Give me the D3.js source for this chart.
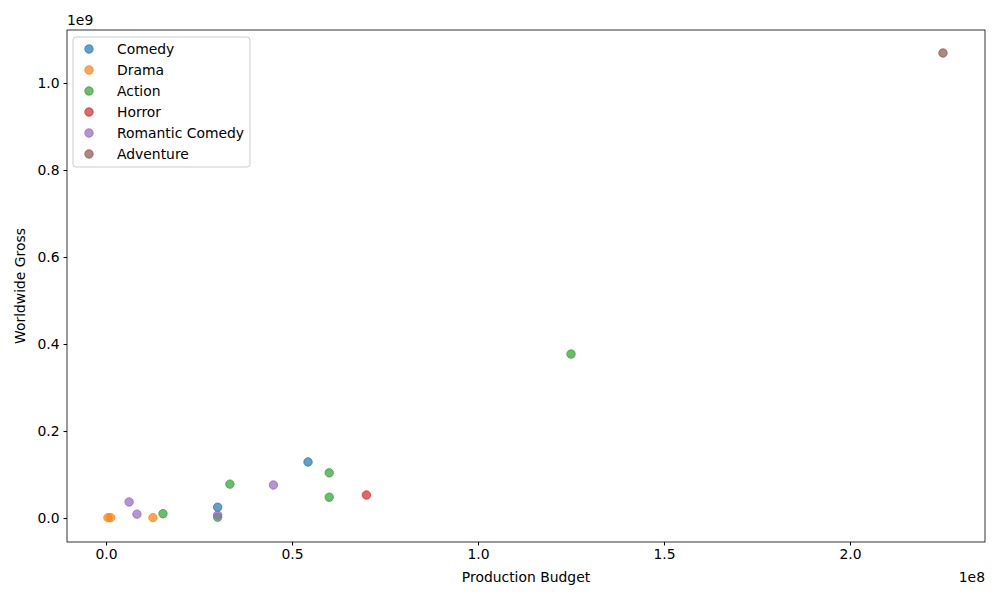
<!DOCTYPE html><html><head><meta charset="utf-8"><script src="https://d3js.org/d3.v7.min.js"></script>
<style>body{margin:0;background:#fff}text{font-family:"DejaVu Sans",sans-serif}</style></head><body><svg id="c" width="1000" height="600"></svg>
<script>
const genres=["Comedy","Drama","Action","Horror","Romantic Comedy","Adventure"];
const colors=["#1f77b4","#ff7f0e","#2ca02c","#d62728","#9467bd","#8c564b"];
const budget=[54.3e6,30e6, 0.5e6,1.2e6,12.6e6, 15.3e6,30e6,33.3e6,60e6,60e6,125e6, 70e6, 6.2e6,8.3e6,30e6,45e6, 225e6];
const gross=[129e6,25e6, 1e6,1e6,1e6, 10e6,2e6,78e6,104e6,48e6,377e6, 53e6, 37e6,9e6,7e6,76e6, 1069e6];
const genre=["Comedy","Comedy","Drama","Drama","Drama","Action","Action","Action","Action","Action","Action","Horror","Romantic Comedy","Romantic Comedy","Romantic Comedy","Romantic Comedy","Adventure"];
const xTicks=[0,0.5e8,1e8,1.5e8,2e8], yTicks=[0,0.2e9,0.4e9,0.6e9,0.8e9,1e9];
const FS="13.9px";
const svg=d3.select("#c");
const L=67,R=985,T=30,B=542;
const x=d3.scaleLinear().domain([-10.5e6,236.3e6]).range([L,R]);
const y=d3.scaleLinear().domain([-55e6,1121.8e6]).range([B,T]);
const col=d3.scaleOrdinal().domain(genres).range(colors);
svg.append("g").attr("transform",`translate(0,${B})`).call(d3.axisBottom(x).tickValues(xTicks).tickFormat(d=>(d/1e8).toFixed(1)).tickSizeOuter(0).tickSize(3.5).tickPadding(4)).attr("font-size",FS);
svg.append("g").attr("transform",`translate(${L},0)`).call(d3.axisLeft(y).tickValues(yTicks).tickFormat(d=>(d/1e9).toFixed(1)).tickSizeOuter(0).tickSize(3.5).tickPadding(4)).attr("font-size",FS);
svg.selectAll(".domain").remove();
svg.selectAll(".tick text").attr("fill","#000").style("font-family","DejaVu Sans");
svg.append("rect").attr("x",L).attr("y",T).attr("width",R-L).attr("height",B-T).attr("fill","none").attr("stroke","#000").attr("stroke-width",0.8);
svg.append("g").selectAll("circle").data(budget).join("circle").attr("cx",d=>x(d)).attr("cy",(d,i)=>y(gross[i])).attr("r",4.2).attr("fill",(d,i)=>col(genre[i])).attr("fill-opacity",0.7).attr("stroke",(d,i)=>col(genre[i])).attr("stroke-opacity",0.75).attr("stroke-width",1);
svg.append("text").attr("x",(L+R)/2).attr("y",582).attr("text-anchor","middle").attr("font-size",FS).text("Production Budget");
svg.append("text").attr("transform",`translate(25,${(T+B)/2}) rotate(-90)`).attr("text-anchor","middle").attr("font-size",FS).text("Worldwide Gross");
svg.append("text").attr("x",67).attr("y",25).attr("font-size",FS).text("1e9");
svg.append("text").attr("x",985).attr("y",582).attr("text-anchor","end").attr("font-size",FS).text("1e8");
const lg=svg.append("g").attr("transform","translate(73,37)");
lg.append("rect").attr("width",177).attr("height",130).attr("rx",3).attr("fill","#fff").attr("fill-opacity",0.8).attr("stroke","#ccc");
genres.forEach((g,i)=>{const yy=12+i*21;lg.append("circle").attr("cx",16).attr("cy",yy).attr("r",4.2).attr("fill",colors[i]).attr("fill-opacity",0.7).attr("stroke",colors[i]).attr("stroke-opacity",0.75);
lg.append("text").attr("x",44).attr("y",yy+5).attr("font-size",FS).text(g);});
</script></body></html>
